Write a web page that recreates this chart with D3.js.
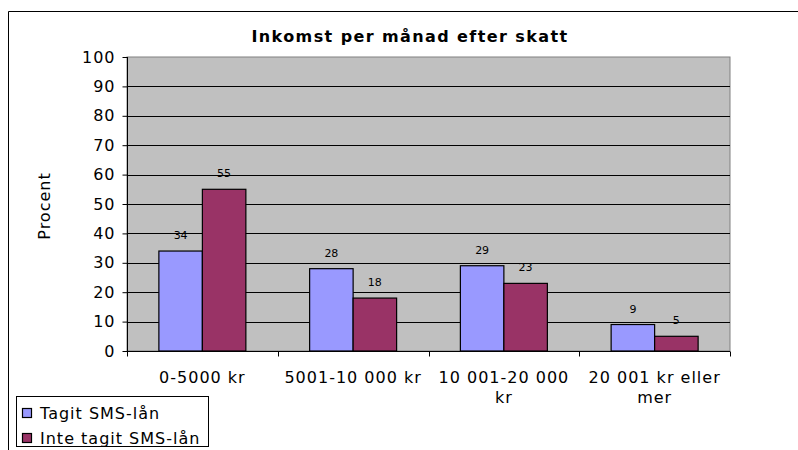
<!DOCTYPE html>
<html>
<head>
<meta charset="utf-8">
<script src="https://cdn.jsdelivr.net/npm/d3@7"></script>
<style>
  html, body { margin: 0; padding: 0; background: #fff; }
  svg { display: block; }
  text { font-family: "DejaVu Sans", Verdana, sans-serif; fill: #000; }
</style>
</head>
<body>
<svg id="chart" width="798" height="450"></svg>
<script>
const title = "Inkomst per månad efter skatt";
const yAxisTitle = "Procent";
const categories = ["0-5000 kr", "5001-10 000 kr", "10 001-20 000 kr", "20 001 kr eller mer"];
const seriesNames = ["Tagit SMS-lån", "Inte tagit SMS-lån"];
const tagitValues = [34, 28, 29, 9];
const inteTagitValues = [55, 18, 23, 5];
const yTicks = [0, 10, 20, 30, 40, 50, 60, 70, 80, 90, 100];
const colors = ["#9999FF", "#993366"];

const seriesValues = [tagitValues, inteTagitValues];
const svg = d3.select("#chart");

const plot = { left: 127, right: 730, top: 57, bottom: 351 };

// outer chart border
svg.append("path")
  .attr("d", `M8.5,460 L8.5,11.5 L810,11.5`)
  .attr("fill", "none").attr("stroke", "#000").attr("stroke-width", 1);

const x0 = d3.scaleBand().domain(categories).range([plot.left, plot.right]).paddingInner(0).paddingOuter(0);
const x1 = d3.scaleBand().domain(seriesNames).range([0, x0.bandwidth()]).paddingInner(0).paddingOuter(0.733);
const y = d3.scaleLinear().domain([0, 100]).range([plot.bottom, plot.top]);

// plot background
svg.append("rect")
  .attr("x", plot.left).attr("y", plot.top)
  .attr("width", plot.right - plot.left).attr("height", plot.bottom - plot.top)
  .attr("fill", "#C0C0C0").attr("stroke", "#808080").attr("stroke-width", 1);

// gridlines
svg.append("g").selectAll("line")
  .data(yTicks.filter(d => d > 0 && d < 100))
  .join("line")
  .attr("x1", plot.left).attr("x2", plot.right)
  .attr("y1", d => Math.round(y(d)) + 0.5).attr("y2", d => Math.round(y(d)) + 0.5)
  .attr("stroke", "#000").attr("stroke-width", 1);

// y axis
const yAxis = d3.axisLeft(y).tickValues(yTicks).tickSize(5).tickPadding(7).tickSizeOuter(0);
const gy = svg.append("g").attr("transform", `translate(${plot.left + 0.5},0)`).call(yAxis);
gy.select(".domain").attr("stroke", "#000").attr("d", `M0,${plot.top}V${plot.bottom + 5}`);
gy.selectAll(".tick line").attr("stroke", "#000");
gy.selectAll(".tick text")
  .style("font-family", '"DejaVu Sans", Verdana, sans-serif')
  .style("font-size", "16px").style("letter-spacing", "1px").attr("fill", "#000");

// x axis
const xAxis = d3.axisBottom(x0).tickSize(0).tickPadding(0).tickSizeOuter(0);
const gx = svg.append("g").attr("transform", `translate(0,${plot.bottom + 0.5})`).call(xAxis);
gx.select(".domain").attr("stroke", "#000").attr("d", `M${plot.left},0H${plot.right}`);
// category boundary ticks
gx.selectAll(".bound")
  .data(d3.range(categories.length + 1))
  .join("line").attr("class", "bound")
  .attr("x1", i => Math.round(plot.left + i * x0.step()) + 0.5)
  .attr("x2", i => Math.round(plot.left + i * x0.step()) + 0.5)
  .attr("y1", 0).attr("y2", 5).attr("stroke", "#000");

gx.selectAll(".tick text")
  .style("font-family", '"DejaVu Sans", Verdana, sans-serif')
  .style("font-size", "16px").style("letter-spacing", "1px").attr("fill", "#000")
  .attr("y", 31).attr("dy", 0)
  .each(function(d) {
    const t = d3.select(this);
    const words = d.split(" ");
    t.text(null);
    let line = [];
    let lineNo = 0;
    let tspan = t.append("tspan").attr("x", 0).attr("y", 31);
    for (const w of words) {
      line.push(w);
      tspan.text(line.join(" "));
      if (tspan.node().getComputedTextLength() > 140 && line.length > 1) {
        line.pop();
        tspan.text(line.join(" "));
        line = [w];
        lineNo++;
        tspan = t.append("tspan").attr("x", 0).attr("y", 31 + lineNo * 20).text(w);
      }
    }
  });

// bars
const groups = svg.append("g").selectAll("g")
  .data(categories)
  .join("g")
  .attr("transform", d => `translate(${x0(d)},0)`);

groups.selectAll("rect")
  .data((d, i) => seriesNames.map((s, j) => ({ s, v: seriesValues[j][i], j })))
  .join("rect")
  .attr("x", d => x1(d.s))
  .attr("y", d => y(d.v))
  .attr("width", x1.bandwidth())
  .attr("height", d => y(0) - y(d.v))
  .attr("fill", d => colors[d.j])
  .attr("stroke", "#000").attr("stroke-width", 1.2);

groups.selectAll("text.lbl")
  .data((d, i) => seriesNames.map((s, j) => ({ s, v: seriesValues[j][i], j })))
  .join("text").attr("class", "lbl")
  .attr("x", d => x1(d.s) + x1.bandwidth() / 2)
  .attr("y", d => y(d.v) - 12)
  .attr("text-anchor", "middle")
  .style("font-size", "11px")
  .text(d => d.v);

// title
svg.append("text")
  .attr("x", 410).attr("y", 42)
  .attr("text-anchor", "middle")
  .style("font-size", "16px").style("font-weight", "bold").style("letter-spacing", "1.4px")
  .text(title);

// y axis title
svg.append("text")
  .attr("transform", `translate(50,206) rotate(-90)`)
  .attr("text-anchor", "middle")
  .style("font-size", "16px").style("letter-spacing", "1px")
  .text(yAxisTitle);

// legend
const legend = svg.append("g");
legend.append("rect")
  .attr("x", 16.5).attr("y", 396.5).attr("width", 192).attr("height", 50)
  .attr("fill", "#fff").attr("stroke", "#000").attr("stroke-width", 1);
const li = legend.selectAll("g.item").data(seriesNames).join("g").attr("class", "item")
  .attr("transform", (d, i) => `translate(0,${i * 25})`);
li.append("rect")
  .attr("x", 22.5).attr("y", 408.5).attr("width", 9).attr("height", 9)
  .attr("fill", (d, i) => colors[i]).attr("stroke", "#000").attr("stroke-width", 1.2);
li.append("text")
  .attr("x", 40).attr("y", 419)
  .style("font-size", "16px").style("letter-spacing", "1px")
  .text(d => d);
</script>
</body>
</html>
